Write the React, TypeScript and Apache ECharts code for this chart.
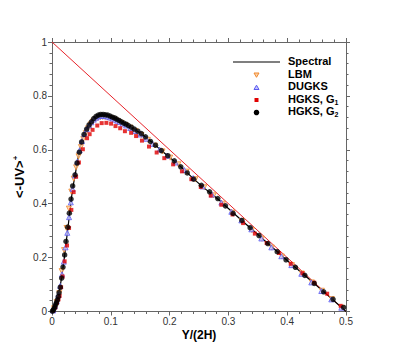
import React, { useEffect, useRef } from "react";
import * as echarts from "echarts";

const xTicks = [0, 0.1, 0.2, 0.3, 0.4, 0.5];
const yTicks = [0, 0.2, 0.4, 0.6, 0.8, 1];

const totalStress: number[][] = [[0, 1], [0.5, 0]];

const spectral: number[][] = [
  [0, 0], [0.003, 0.008], [0.006, 0.025], [0.009, 0.045], [0.012, 0.075], [0.015, 0.108],
  [0.018, 0.152], [0.021, 0.2], [0.024, 0.255], [0.027, 0.308], [0.03, 0.365], [0.033, 0.42],
  [0.036, 0.466], [0.04, 0.515], [0.044, 0.565], [0.048, 0.608], [0.052, 0.642], [0.056, 0.665],
  [0.06, 0.682], [0.065, 0.698], [0.07, 0.712], [0.075, 0.722], [0.08, 0.728], [0.085, 0.73],
  [0.09, 0.73], [0.095, 0.728], [0.1, 0.724], [0.11, 0.713], [0.12, 0.701], [0.13, 0.689],
  [0.14, 0.676], [0.15, 0.662], [0.16, 0.646], [0.17, 0.628], [0.18, 0.609], [0.19, 0.59],
  [0.2, 0.572], [0.22, 0.535], [0.24, 0.494], [0.26, 0.456], [0.28, 0.421], [0.3, 0.382],
  [0.32, 0.343], [0.34, 0.305], [0.36, 0.266], [0.38, 0.228], [0.4, 0.189], [0.42, 0.152],
  [0.44, 0.115], [0.46, 0.077], [0.48, 0.039], [0.5, 0.0],
];

const lbm: number[][] = [
  [0.0035, 0.012], [0.008, 0.035], [0.0124, 0.068], [0.0164, 0.15], [0.0205, 0.228], [0.0246, 0.31],
  [0.0287, 0.382], [0.0328, 0.445], [0.0369, 0.493], [0.041, 0.535], [0.0451, 0.576], [0.0492, 0.61],
  [0.0533, 0.64], [0.0574, 0.662], [0.0615, 0.68], [0.0656, 0.694], [0.0697, 0.705], [0.0738, 0.713],
  [0.0779, 0.718], [0.082, 0.721], [0.0861, 0.722], [0.0902, 0.722], [0.0943, 0.72], [0.0984, 0.718],
  [0.1025, 0.715], [0.107, 0.711], [0.112, 0.706], [0.118, 0.7], [0.125, 0.692], [0.133, 0.682],
  [0.142, 0.67], [0.152, 0.655], [0.163, 0.637], [0.175, 0.616], [0.188, 0.594], [0.201, 0.571],
  [0.215, 0.546], [0.229, 0.519], [0.244, 0.491], [0.259, 0.461], [0.275, 0.431], [0.291, 0.4],
  [0.307, 0.367], [0.323, 0.336], [0.34, 0.302], [0.357, 0.27], [0.374, 0.237], [0.391, 0.204],
  [0.408, 0.172], [0.425, 0.141], [0.442, 0.108], [0.459, 0.077], [0.476, 0.046], [0.493, 0.014],
];

const dugks: number[][] = [
  [0.002, 0.004], [0.005, 0.02], [0.008, 0.038], [0.011, 0.062], [0.014, 0.095], [0.017, 0.138],
  [0.02, 0.185], [0.023, 0.238], [0.026, 0.292], [0.029, 0.35], [0.032, 0.405], [0.035, 0.455],
  [0.039, 0.505], [0.043, 0.556], [0.047, 0.598], [0.051, 0.632], [0.055, 0.658], [0.059, 0.676],
  [0.063, 0.69], [0.067, 0.702], [0.071, 0.712], [0.075, 0.719], [0.079, 0.724], [0.083, 0.726],
  [0.087, 0.726], [0.091, 0.725], [0.095, 0.723], [0.099, 0.72], [0.103, 0.716], [0.107, 0.712],
  [0.111, 0.708], [0.115, 0.703], [0.12, 0.697], [0.126, 0.69], [0.133, 0.681], [0.141, 0.67],
  [0.15, 0.657], [0.16, 0.641], [0.171, 0.622], [0.183, 0.601], [0.196, 0.578], [0.21, 0.553],
  [0.225, 0.525], [0.24, 0.495], [0.256, 0.464], [0.272, 0.434], [0.288, 0.404], [0.305, 0.37],
  [0.322, 0.338], [0.339, 0.305], [0.356, 0.271], [0.373, 0.238], [0.39, 0.205], [0.407, 0.172],
  [0.424, 0.14], [0.441, 0.108], [0.458, 0.076], [0.475, 0.045], [0.492, 0.014],
];

const hgksG1: number[][] = [
  [0.002, 0.004], [0.0055, 0.015], [0.0085, 0.032], [0.011, 0.045], [0.013, 0.058], [0.0155, 0.09],
  [0.018, 0.13], [0.0215, 0.186], [0.0255, 0.245], [0.029, 0.31], [0.0329, 0.377], [0.0368, 0.443],
  [0.041, 0.5], [0.0458, 0.553], [0.0525, 0.602], [0.0596, 0.643], [0.064, 0.658], [0.069, 0.674],
  [0.077, 0.69], [0.0845, 0.699], [0.0925, 0.7], [0.1005, 0.697], [0.108, 0.688], [0.116, 0.68],
  [0.124, 0.669], [0.1346, 0.663], [0.143, 0.651], [0.153, 0.634], [0.165, 0.612], [0.178, 0.59],
  [0.191, 0.569], [0.206, 0.546], [0.221, 0.52], [0.237, 0.491], [0.253, 0.462], [0.27, 0.43],
  [0.288, 0.396], [0.307, 0.36], [0.325, 0.328], [0.345, 0.289], [0.365, 0.254], [0.386, 0.217],
  [0.406, 0.177], [0.426, 0.142], [0.446, 0.107], [0.468, 0.066], [0.491, 0.021],
];

const hgksG2: number[][] = [
  [0.0007, 0.001], [0.0021, 0.005], [0.0035, 0.011], [0.0049, 0.018], [0.0063, 0.026], [0.0077, 0.034],
  [0.0092, 0.043], [0.0106, 0.055], [0.012, 0.07], [0.0141, 0.09], [0.0164, 0.124], [0.0187, 0.165],
  [0.0215, 0.21], [0.0238, 0.26], [0.0268, 0.313], [0.0295, 0.365], [0.0324, 0.417], [0.0351, 0.466],
  [0.0392, 0.507], [0.0426, 0.551], [0.0465, 0.591], [0.0504, 0.629], [0.0545, 0.657], [0.0589, 0.677],
  [0.063, 0.692], [0.067, 0.704], [0.0709, 0.716], [0.075, 0.724], [0.0789, 0.729], [0.0828, 0.731],
  [0.0869, 0.731], [0.0908, 0.73], [0.0947, 0.729], [0.0988, 0.725], [0.1027, 0.721], [0.1066, 0.718],
  [0.11, 0.714], [0.114, 0.709], [0.118, 0.704], [0.122, 0.699], [0.126, 0.695], [0.13, 0.69],
  [0.135, 0.684], [0.14, 0.677], [0.146, 0.669], [0.152, 0.66], [0.159, 0.648], [0.1675, 0.631],
  [0.176, 0.617], [0.186, 0.597], [0.197, 0.578], [0.208, 0.559], [0.219, 0.537], [0.23, 0.514],
  [0.241, 0.491], [0.254, 0.468], [0.268, 0.444], [0.282, 0.419], [0.295, 0.392], [0.308, 0.364],
  [0.323, 0.338], [0.337, 0.311], [0.352, 0.282], [0.367, 0.252], [0.383, 0.222], [0.398, 0.192],
  [0.414, 0.164], [0.43, 0.134], [0.446, 0.104], [0.462, 0.073], [0.478, 0.045], [0.496, 0.015],
];

const FONT = "'Liberation Sans', Arial, sans-serif";
const AXIS_COLOR = "#666";
const LBM_FILL = "#fcd0a4";
const LBM_STROKE = "#f08a30";
const DUG_FILL = "#c4c4ff";
const DUG_STROKE = "#5a5af0";
const G1_COLOR = "#e00000";
const G2_COLOR = "#000000";

export default function App() {
  const ref = useRef<HTMLDivElement>(null);

  useEffect(() => {
    if (!ref.current) return;
    const chart = echarts.init(ref.current, null, { renderer: "svg" });

    const tickStyle = { show: true, inside: false, length: 4, lineStyle: { color: AXIS_COLOR, width: 1 } };
    const minorStyle = { show: true, splitNumber: 5, length: 2.5, lineStyle: { color: AXIS_COLOR, width: 1 } };
    const lineStyle = { show: true, onZero: false, lineStyle: { color: AXIS_COLOR, width: 1 } };

    const legendX = 233;
    const legendW = 47;
    const textX = 288;
    const rows = [62, 75, 87.5, 100, 112.5];
    const cx = legendX + legendW / 2;
    const labelStyle = (txt: string, y: number) => ({
      type: "text",
      left: textX,
      top: y - 7,
      style: {
        text: txt,
        font: `bold 11px ${FONT}`,
        fill: "#000",
        rich: {
          sub: { font: `bold 7px ${FONT}`, fill: "#000", verticalAlign: "bottom", lineHeight: 14, padding: [5, 0, 0, 0] },
          m: { font: `bold 11px ${FONT}`, fill: "#000", lineHeight: 14 },
        },
      },
    });

    chart.setOption({
      animation: false,
      grid: { left: 52, right: 49, top: 42, bottom: 39.5, containLabel: false },
      xAxis: [
        {
          type: "value",
          min: xTicks[0],
          max: xTicks[xTicks.length - 1],
          interval: 0.1,
          axisLine: lineStyle,
          axisTick: tickStyle,
          minorTick: minorStyle,
          splitLine: { show: false },
          axisLabel: {
            margin: 5,
            color: "#333",
            fontSize: 10,
            fontFamily: FONT,
            formatter: (v: number) => String(Math.round(v * 10) / 10),
          },
          name: "Y/(2H)",
          nameLocation: "middle",
          nameGap: 17,
          nameMoveOverlap: false,
          nameTextStyle: { fontWeight: "bold", fontSize: 12, fontFamily: FONT, color: "#000" },
        },
        {
          type: "value",
          position: "top",
          min: xTicks[0],
          max: xTicks[xTicks.length - 1],
          interval: 0.1,
          axisLine: lineStyle,
          axisTick: tickStyle,
          minorTick: minorStyle,
          splitLine: { show: false },
          axisLabel: { show: false },
        },
      ],
      yAxis: [
        {
          type: "value",
          min: yTicks[0],
          max: yTicks[yTicks.length - 1],
          interval: 0.2,
          axisLine: lineStyle,
          axisTick: tickStyle,
          minorTick: minorStyle,
          splitLine: { show: false },
          axisLabel: {
            margin: 5,
            color: "#333",
            fontSize: 10,
            fontFamily: FONT,
            formatter: (v: number) => String(Math.round(v * 10) / 10),
          },
          name: "<-UV>{sup|+}",
          nameLocation: "middle",
          nameGap: 25,
          nameMoveOverlap: false,
          nameRotate: 90,
          nameTextStyle: {
            fontWeight: "bold",
            fontSize: 13,
            fontFamily: FONT,
            color: "#000",
            lineHeight: 16,
            rich: {
              sup: { fontWeight: "bold", fontSize: 8, fontFamily: FONT, color: "#000", verticalAlign: "top", lineHeight: 16, padding: [0, 0, 6, 0] },
            },
          },
        },
        {
          type: "value",
          position: "right",
          min: yTicks[0],
          max: yTicks[yTicks.length - 1],
          interval: 0.2,
          axisLine: lineStyle,
          axisTick: tickStyle,
          minorTick: minorStyle,
          splitLine: { show: false },
          axisLabel: { show: false },
        },
      ],
      series: [
        {
          name: "Total",
          type: "line",
          data: totalStress,
          symbol: "none",
          lineStyle: { color: "#e8232a", width: 1 },
          z: 1,
        },
        {
          name: "Spectral",
          type: "line",
          data: spectral,
          symbol: "none",
          smooth: 0.3,
          lineStyle: { color: "#000", width: 1.2 },
          z: 2,
        },
        {
          name: "LBM",
          type: "scatter",
          data: lbm,
          symbol: "triangle",
          symbolRotate: 180,
          symbolSize: 5,
          itemStyle: { color: LBM_FILL, borderColor: LBM_STROKE, borderWidth: 1 },
          z: 3,
        },
        {
          name: "DUGKS",
          type: "scatter",
          data: dugks,
          symbol: "triangle",
          symbolSize: 5,
          itemStyle: { color: DUG_FILL, borderColor: DUG_STROKE, borderWidth: 1 },
          z: 3,
        },
        {
          name: "HGKS, G1",
          type: "scatter",
          data: hgksG1,
          symbol: "rect",
          symbolSize: 4,
          itemStyle: { color: G1_COLOR },
          z: 4,
        },
        {
          name: "HGKS, G2",
          type: "scatter",
          data: hgksG2,
          symbol: "circle",
          symbolSize: 5.5,
          itemStyle: { color: G2_COLOR },
          z: 5,
        },
      ],
      graphic: [
        {
          type: "line",
          shape: { x1: legendX, y1: rows[0], x2: legendX + legendW, y2: rows[0] },
          style: { stroke: "#000", lineWidth: 1.2 },
        },
        labelStyle("{m|Spectral}", rows[0]),
        {
          type: "polygon",
          shape: { points: [[cx - 2.5, rows[1] - 2], [cx + 2.5, rows[1] - 2], [cx, rows[1] + 2.3]] },
          style: { fill: LBM_FILL, stroke: LBM_STROKE, lineWidth: 1 },
        },
        labelStyle("{m|LBM}", rows[1]),
        {
          type: "polygon",
          shape: { points: [[cx - 2.5, rows[2] + 2], [cx + 2.5, rows[2] + 2], [cx, rows[2] - 2.3]] },
          style: { fill: DUG_FILL, stroke: DUG_STROKE, lineWidth: 1 },
        },
        labelStyle("{m|DUGKS}", rows[2]),
        {
          type: "rect",
          shape: { x: cx - 2, y: rows[3] - 2, width: 4, height: 4 },
          style: { fill: G1_COLOR },
        },
        labelStyle("{m|HGKS, G}{sub|1}", rows[3]),
        {
          type: "circle",
          shape: { cx: cx, cy: rows[4], r: 2.75 },
          style: { fill: G2_COLOR },
        },
        labelStyle("{m|HGKS, G}{sub|2}", rows[4]),
      ],
    });

    return () => chart.dispose();
  }, []);

  return (
    <div
      ref={ref}
      style={{ position: "fixed", left: 0, top: 0, width: 395, height: 351, background: "#fff" }}
    />
  );
}
